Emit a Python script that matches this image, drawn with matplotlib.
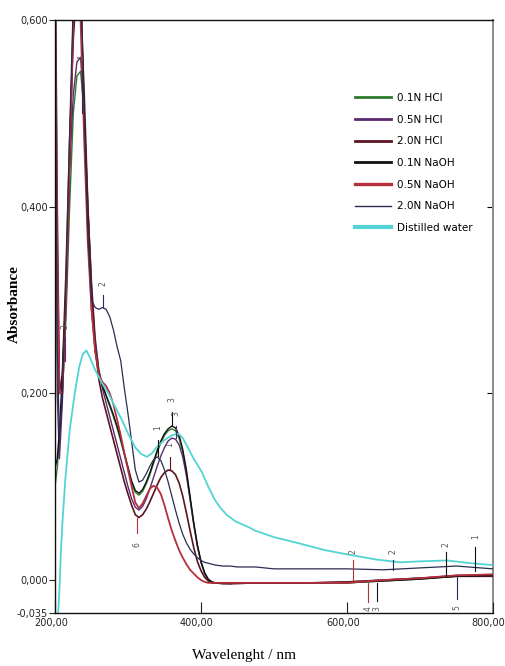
import matplotlib
matplotlib.use("Agg")
import matplotlib.pyplot as plt
from matplotlib.ticker import FixedLocator
from matplotlib.transforms import ScaledTranslation

# wavelength grid (nm) shared by the six solvent spectra
wl = [200, 203, 206, 210, 215, 220, 225, 230, 235, 240, 245, 250, 255, 260, 265, 270,
      275, 280, 285, 290, 295, 300, 305, 310, 315, 320, 325, 330, 335, 340, 345, 350,
      355, 360, 365, 370, 375, 380, 385, 390, 395, 400, 405, 410, 415, 420, 430, 440,
      450, 475, 500, 550, 600, 650, 700, 750, 800]

hcl_01 = [0.10, 0.12, 0.15, 0.20, 0.28, 0.40, 0.50, 0.54, 0.545, 0.50, 0.40, 0.31, 0.255, 0.225, 0.208, 0.197,
          0.186, 0.175, 0.163, 0.149, 0.134, 0.119, 0.104, 0.094, 0.091, 0.095, 0.103, 0.113, 0.125, 0.137, 0.147, 0.155,
          0.160, 0.162, 0.160, 0.152, 0.137, 0.115, 0.087, 0.060, 0.036, 0.019, 0.007, 0.000, -0.002, -0.003, -0.003, -0.003,
          -0.003, -0.003, -0.003, -0.003, -0.003, -0.001, 0.001, 0.004, 0.005]
hcl_05 = [0.65, 0.20, 0.13, 0.19, 0.30, 0.44, 0.52, 0.555, 0.56, 0.50, 0.40, 0.32, 0.26, 0.225, 0.205, 0.19,
          0.175, 0.16, 0.145, 0.13, 0.115, 0.10, 0.087, 0.078, 0.075, 0.079, 0.087, 0.098, 0.11, 0.122, 0.133, 0.142,
          0.149, 0.152, 0.151, 0.145, 0.132, 0.112, 0.087, 0.06, 0.037, 0.019, 0.007, 0.0, -0.003, -0.003, -0.003, -0.004,
          -0.004, -0.003, -0.003, -0.003, -0.002, 0.0, 0.002, 0.005, 0.006]
hcl_20 = [0.70, 0.40, 0.20, 0.22, 0.33, 0.47, 0.58, 0.64, 0.62, 0.52, 0.40, 0.31, 0.25, 0.215, 0.195, 0.18,
          0.165, 0.15, 0.135, 0.12, 0.105, 0.092, 0.08, 0.07, 0.067, 0.07, 0.076, 0.084, 0.093, 0.102, 0.11, 0.115,
          0.118, 0.117, 0.113, 0.104, 0.09, 0.072, 0.053, 0.035, 0.02, 0.01, 0.003, -0.001, -0.003, -0.003, -0.004, -0.004,
          -0.003, -0.003, -0.003, -0.003, -0.002, 0.0, 0.002, 0.004, 0.004]
naoh_01 = [0.12, 0.13, 0.16, 0.22, 0.31, 0.45, 0.60, 0.69, 0.64, 0.49, 0.37, 0.29, 0.245, 0.222, 0.208, 0.198,
           0.188, 0.177, 0.165, 0.151, 0.136, 0.121, 0.106, 0.096, 0.093, 0.097, 0.105, 0.115, 0.127, 0.139, 0.149, 0.157,
           0.162, 0.165, 0.163, 0.155, 0.14, 0.118, 0.09, 0.062, 0.038, 0.02, 0.008, 0.001, -0.002, -0.003, -0.003, -0.003,
           -0.003, -0.003, -0.003, -0.003, -0.003, -0.001, 0.001, 0.004, 0.005]
naoh_05 = [0.65, 0.35, 0.20, 0.20, 0.30, 0.45, 0.60, 0.66, 0.60, 0.47, 0.36, 0.29, 0.245, 0.22, 0.212, 0.208,
           0.20, 0.188, 0.172, 0.155, 0.136, 0.118, 0.10, 0.083, 0.077, 0.082, 0.09, 0.098, 0.101, 0.099, 0.092, 0.08,
           0.066, 0.053, 0.042, 0.032, 0.024, 0.017, 0.011, 0.007, 0.003, 0.0, -0.002, -0.003, -0.003, -0.003, -0.003, -0.003,
           -0.003, -0.003, -0.003, -0.003, -0.003, 0.0, 0.002, 0.005, 0.006]
naoh_20 = [0.65, 0.25, 0.15, 0.20, 0.32, 0.48, 0.62, 0.70, 0.66, 0.50, 0.37, 0.30, 0.292, 0.29, 0.292, 0.29,
           0.282, 0.268, 0.25, 0.235, 0.205, 0.178, 0.148, 0.118, 0.105, 0.107, 0.114, 0.122, 0.129, 0.132, 0.128, 0.118,
           0.105, 0.09, 0.075, 0.061, 0.049, 0.04, 0.033, 0.028, 0.024, 0.021, 0.019, 0.018, 0.017, 0.016, 0.015, 0.015,
           0.014, 0.014, 0.012, 0.012, 0.012, 0.011, 0.013, 0.015, 0.012]

# distilled water has its own grid
water_wl = [204, 206, 208, 210, 214, 220, 227, 233, 238, 243, 248, 255, 265, 273, 282, 292, 300, 310,
            318, 326, 333, 340, 350, 360, 369, 375, 382, 390, 401, 410, 419, 426, 435, 447, 467, 474,
            500, 536, 570, 604, 640, 673, 700, 737, 770, 800]
water = [-0.04, -0.01, 0.03, 0.06, 0.107, 0.16, 0.20, 0.228, 0.242, 0.246, 0.238, 0.225, 0.21, 0.20, 0.186,
         0.171, 0.157, 0.142, 0.135, 0.132, 0.136, 0.143, 0.15, 0.155, 0.157, 0.152, 0.142, 0.13, 0.116, 0.10,
         0.086, 0.078, 0.07, 0.063, 0.056, 0.053, 0.046, 0.039, 0.032, 0.027, 0.022, 0.019, 0.02, 0.021, 0.018, 0.016]

labels = ["0.1N HCl", "0.5N HCl", "2.0N HCl", "0.1N NaOH", "0.5N NaOH", "2.0N NaOH", "Distilled water"]

# peak-pick marks of the instrument: wavelength, line from, line to, text y, text, colour
pk_wl = [237, 266, 360, 366, 341, 357, 312, 214, 608, 663, 736, 776, 751, 629, 641]
pk_y0 = [0.50, 0.292, 0.165, 0.152, 0.133, 0.118, 0.067, 0.235, -0.002, 0.011, 0.004, 0.010, 0.004, -0.003, -0.022]
pk_y1 = [0.545, 0.305, 0.180, 0.165, 0.150, 0.132, 0.050, 0.260, 0.022, 0.022, 0.030, 0.035, -0.020, -0.024, -0.003]
pk_ty = [0.56, 0.318, 0.193, 0.178, 0.163, 0.145, 0.038, 0.272, 0.030, 0.030, 0.038, 0.047, -0.029, -0.031, -0.031]
pk_txt = ["4", "2", "3", "3", "1", "1", "6", "3", "2", "2", "2", "1", "5", "4", "3"]

c_green = "#2e7a2e"
c_purple = "#5b2a6e"
c_maroon = "#5a1520"
c_black = "#111111"
c_red = "#b5303c"
c_navy = "#2b2d50"
c_cyan = "#52d4d4"
pk_col = [c_navy, c_navy, c_black, c_purple, c_black, c_maroon, c_red, c_purple,
          c_red, c_navy, c_black, c_black, c_navy, c_red, c_black]

narrow = ["Liberation Sans Narrow", "DejaVu Sans"]

fig = plt.figure(figsize=(5.05, 6.66), dpi=100)
ax = fig.add_axes([0.109, 0.080, 0.867, 0.890])

ax.plot(wl, hcl_01, color=c_green, lw=1.0, label=labels[0])
ax.plot(wl, hcl_05, color=c_purple, lw=1.0, label=labels[1])
ax.plot(wl, hcl_20, color=c_maroon, lw=1.2, label=labels[2])
ax.plot(wl, naoh_01, color=c_black, lw=1.0, label=labels[3])
ax.plot(wl, naoh_05, color=c_red, lw=1.3, label=labels[4])
ax.plot(wl, naoh_20, color=c_navy, lw=0.9, label=labels[5])
ax.plot(water_wl, water, color=c_cyan, lw=1.3, label=labels[6])

for x, y0, y1, ty, t, c in zip(pk_wl, pk_y0, pk_y1, pk_ty, pk_txt, pk_col):
    ax.plot([x, x], [y0, y1], color=c, lw=0.8)
    ax.text(x, ty, t, rotation=90, fontsize=5.5, color="#555555", ha="center", va="center")

ax.set_xlim(200, 800)
ax.set_ylim(-0.035, 0.6)

ax.xaxis.set_major_locator(FixedLocator([200, 400, 600, 800]))
ax.set_xticklabels(["200,00", "400,00", "600,00", "800,00"], family=narrow, fontsize=7)
ax.yaxis.set_major_locator(FixedLocator([-0.035, 0.0, 0.2, 0.4, 0.6]))
ax.set_yticklabels(["-0,035", "0,000", "0,200", "0,400", "0,600"], family=narrow, fontsize=7)
ax.tick_params(axis="x", direction="in", length=8, width=0.8, pad=4, colors="#222222")
ax.tick_params(axis="y", direction="out", length=4, width=0.8, pad=1, colors="#222222")
shift = ScaledTranslation(-3 / 72, 0, fig.dpi_scale_trans)
for lab in ax.get_xticklabels():
    lab.set_transform(lab.get_transform() + shift)

right = ax.secondary_yaxis("right")
right.yaxis.set_major_locator(FixedLocator([0.2, 0.4]))
right.tick_params(direction="in", length=4, width=0.8, labelright=False)
right.spines["right"].set_color("#8a8a8a")
right.spines["right"].set_linewidth(1.4)

for s in ["left", "top", "bottom"]:
    ax.spines[s].set_color("#111111")
    ax.spines[s].set_linewidth(1.0)
ax.spines["right"].set_visible(False)

ax.set_xlabel("Wavelenght / nm", family=["Liberation Serif", "DejaVu Serif"], fontsize=11)
ax.xaxis.set_label_coords(0.432, -0.062)
ax.set_ylabel("Absorbance", family=["Liberation Serif", "DejaVu Serif"], fontsize=11, fontweight="bold")
ax.yaxis.set_label_coords(-0.078, 0.52)

leg = ax.legend(loc="upper left", bbox_to_anchor=(0.685, 0.877), frameon=False,
                prop={"family": narrow, "size": 7.5}, handlelength=3.5, handletextpad=0.5,
                labelspacing=1.12, borderpad=0, borderaxespad=0)
for h, w in zip(leg.get_lines(), [2.0, 2.0, 2.0, 2.0, 2.4, 1.0, 3.0]):
    h.set_linewidth(w)

fig.savefig("out.png", dpi=100)
